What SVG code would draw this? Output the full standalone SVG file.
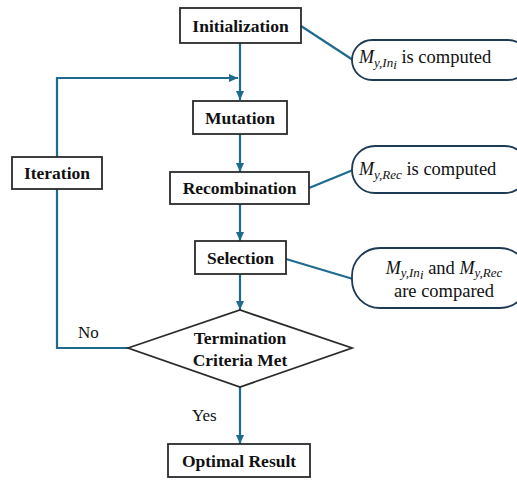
<svg xmlns="http://www.w3.org/2000/svg" width="517" height="480" viewBox="0 0 517 480">
<defs>
<marker id="arr" markerUnits="userSpaceOnUse" markerWidth="10" markerHeight="10" refX="9" refY="5" orient="auto">
<path d="M0,1 L9,5 L0,9 Z" fill="#1f6b8f"/>
</marker>
<style>
.box{fill:#fff;stroke:#2b2b2b;stroke-width:1.8}
.lbl{font-weight:bold;font-size:17.5px;fill:#111;text-anchor:middle}
.call{fill:#fff;stroke:#1f3a55;stroke-width:1.8}
.ct{font-size:18.5px;fill:#111}
.m{font-style:italic;font-size:18px}
.sub{font-style:italic;font-size:13px}
.con{fill:none;stroke:#1f6b8f;stroke-width:2.2}
.yn{font-size:17px;fill:#111}
</style>
</defs>
<rect width="517" height="480" fill="#fff"/>
<g font-family="'Liberation Serif', 'Times New Roman', 'DejaVu Serif', serif">
<g id="connectors">
<line class="con" x1="240" y1="43" x2="240" y2="100" marker-end="url(#arr)"/>
<line class="con" x1="240" y1="134" x2="240" y2="172" marker-end="url(#arr)"/>
<line class="con" x1="240" y1="204" x2="240" y2="241" marker-end="url(#arr)"/>
<line class="con" x1="240" y1="274" x2="240" y2="310" marker-end="url(#arr)"/>
<line class="con" x1="240" y1="387" x2="240" y2="444" marker-end="url(#arr)"/>
<polyline class="con" points="128,348 57,348 57,189"/>
<polyline class="con" points="57,157 57,78 238,78" marker-end="url(#arr)"/>
<line class="con" x1="301" y1="26" x2="353" y2="60"/>
<line class="con" x1="309" y1="188" x2="353" y2="170"/>
<line class="con" x1="286" y1="259" x2="353" y2="279"/>
<text class="yn" x="78" y="338">No</text>
<text class="yn" x="192" y="421">Yes</text>
</g>
<g id="initialization"><rect class="box" x="180" y="8" width="121" height="35"/><text class="lbl" x="240.5" y="31.5">Initialization</text></g>
<g id="mutation"><rect class="box" x="193" y="101" width="94" height="33"/><text class="lbl" x="240" y="123.5">Mutation</text></g>
<g id="recombination"><rect class="box" x="170" y="172" width="139" height="32"/><text class="lbl" x="239.5" y="194">Recombination</text></g>
<g id="selection"><rect class="box" x="195" y="241" width="91" height="33"/><text class="lbl" x="240.5" y="263.5">Selection</text></g>
<g id="iteration"><rect class="box" x="12" y="157" width="90" height="32"/><text class="lbl" x="57" y="179">Iteration</text></g>
<g id="termination"><polygon class="box" points="128,348 240,310 352,348 240,387"/><text class="lbl" x="240" y="344">Termination</text><text class="lbl" x="240" y="366">Criteria Met</text></g>
<g id="optimal"><rect class="box" x="168" y="444" width="142" height="33"/><text class="lbl" x="239" y="466.5">Optimal Result</text></g>
<g id="callout1"><rect class="call" x="352" y="40" width="176" height="40" rx="20"/><text class="ct" x="359" y="63"><tspan class="m">M</tspan><tspan class="sub" dy="4">y,In</tspan><tspan class="sub" font-size="9.5px" dy="2">i</tspan><tspan dy="-6"> is computed</tspan></text></g>
<g id="callout2"><rect class="call" x="352" y="146" width="176" height="47" rx="23"/><text class="ct" x="359" y="175"><tspan class="m">M</tspan><tspan class="sub" dy="4">y,Rec</tspan><tspan dy="-4"> is computed</tspan></text></g>
<g id="callout3"><rect class="call" x="352" y="248" width="176" height="60" rx="28"/><text class="ct" x="444" y="274" font-size="17px" text-anchor="middle"><tspan class="m" font-size="17px">M</tspan><tspan class="sub" font-size="12px" dy="3">y,In</tspan><tspan class="sub" font-size="8.5px" dy="2">i</tspan><tspan dy="-5"> and </tspan><tspan class="m" font-size="17px">M</tspan><tspan class="sub" font-size="12px" dy="3">y,Rec</tspan></text><text class="ct" x="444" y="297" font-size="15.5px" text-anchor="middle">are compared</text></g>
</g>
</svg>
